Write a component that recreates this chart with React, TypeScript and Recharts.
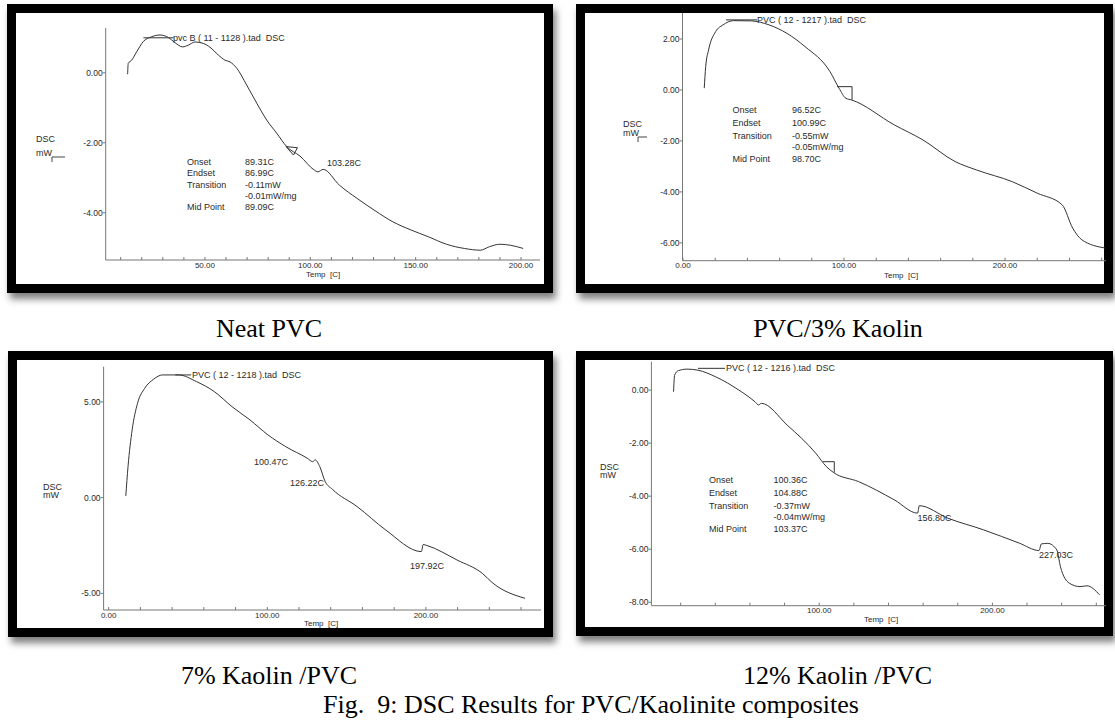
import React from "react";
import { LineChart, Line, XAxis, YAxis, ReferenceLine } from "recharts";

// Neat PVC
const neatTemp = [13.3, 13.6, 15.2, 17.6, 20.7, 24.7, 28.7, 32.6, 35.8, 39.4, 42.1, 45.3, 49.2, 52.4, 56.3, 59.5, 61.9, 65.1, 69.8, 74.6, 79.3, 84.1, 88.8, 95.1, 101.9, 103.6, 106.1, 113.8, 122.2, 130.7, 139.2, 147.7, 156.2, 164.6, 173.1, 180.7, 185, 190, 195.1, 201];
const neatDsc = [-0.04, 0.27, 0.36, 0.6, 0.89, 1.03, 1.08, 1.01, 0.86, 0.74, 0.79, 0.88, 0.84, 0.73, 0.51, 0.36, 0.31, 0.13, -0.35, -0.87, -1.35, -1.73, -2.11, -2.38, -2.78, -2.83, -2.76, -3.21, -3.59, -3.94, -4.26, -4.49, -4.69, -4.9, -5.02, -5.07, -4.97, -4.9, -4.93, -5.02];

// PVC / 3% kaolin
const kao3Temp = [13.2, 14.1, 15.9, 20.3, 24.8, 31.4, 42.5, 53.6, 64.6, 75.8, 91.3, 96.9, 101.2, 104.6, 131.2, 149, 169, 182.3, 204.5, 220, 235.5, 242, 247.7, 262];
const kao3Dsc = [0.07, 0.91, 1.57, 2.29, 2.55, 2.72, 2.71, 2.55, 2.22, 1.7, 0.72, 0.07, -0.33, -0.39, -1.37, -1.96, -2.81, -3.14, -3.6, -4.05, -4.51, -5.42, -5.88, -6.2];

// 7% kaolin / PVC
const kao7Temp = [10.8, 12.2, 14.8, 18.2, 22.7, 28.4, 34, 44.1, 55.4, 66.6, 77.8, 89.1, 100.4, 111.7, 125.2, 128.6, 130.2, 133.1, 136.5, 141, 156.7, 174.7, 197.2, 198.3, 200.6, 219.7, 235.5, 242.3, 262.5];
const kao7Dsc = [0.09, 1.62, 3.54, 4.93, 5.71, 6.19, 6.41, 6.41, 6.06, 5.54, 4.75, 4.06, 3.28, 2.66, 2.06, 1.88, 1.97, 1.62, 0.84, 0.44, -0.47, -1.69, -2.82, -2.45, -2.5, -3.26, -3.95, -4.47, -5.26];

// 12% kaolin / PVC
const kao12Temp = [15.9, 16.5, 18.6, 23.7, 30, 40.2, 53.6, 62.9, 65, 66.6, 81.5, 98, 104.2, 108.3, 122.7, 143.4, 156.8, 157.8, 174.3, 194.9, 215.5, 226.9, 228.3, 232, 237.2, 239.3, 244.4, 250.6, 254.6, 261.9];
const kao12Dsc = [-0.06, 0.56, 0.73, 0.79, 0.75, 0.5, 0, -0.44, -0.56, -0.5, -1.32, -2.38, -2.89, -3.11, -3.45, -4.14, -4.64, -4.36, -4.83, -5.27, -5.77, -6.05, -5.8, -5.78, -6.03, -6.66, -7.28, -7.41, -7.38, -7.72];

// onset markers and title leaders, in data units: [t1, y1, t2, y2]
const neatMarks = [[88.5, -2.11, 93.9, -2.14], [93.9, -2.14, 92, -2.35], [92, -2.35, 88.5, -2.11], [20.8, 1.0, 35.1, 1.0]];
const kao3Marks = [[95.7, 0.13, 105, 0.13], [105, 0.13, 105, -0.39], [26.7, 2.75, 46, 2.75]];
const kao7Marks = [[42, 6.41, 52, 6.41]];
const kao12Marks = [[102.1, -2.7, 108.7, -2.7], [108.7, -2.7, 108.7, -3.11], [30, 0.82, 45.6, 0.82]];

// axis ticks
const neatXTicks = [10, 20, 30, 40, 50, 60, 70, 80, 90, 100, 110, 120, 130, 140, 150, 160, 170, 180, 190, 200];
const neatXMajors = [50, 100, 150, 200];
const neatYTicks = [0, -2, -4];
const kao3XTicks = [0, 20, 40, 60, 80, 100, 120, 140, 160, 180, 200, 220, 240, 260];
const kao3YTicks = [2, 0, -2, -4, -6];
const kao7XTicks = [0, 20, 40, 60, 80, 100, 120, 140, 160, 180, 200, 220, 240, 260];
const kao7YTicks = [5, 0, -5];
const kao12XTicks = [20, 40, 60, 80, 100, 120, 140, 160, 180, 200, 220, 240, 260];
const kao12YTicks = [0, -2, -4, -6, -8];
const majors = [0, 100, 200];

const SANS = "'Liberation Sans', Arial, sans-serif";
const SERIF = "'Liberation Serif', 'Times New Roman', serif";
const INK = "#2a2a2a";

const zip = (t: number[], d: number[]) => t.map((v, i) => ({ t: v, dsc: d[i] }));

const xTick = (major: number[]) => (p: any) => {
  const { x, y, payload } = p;
  const v = payload.value as number;
  return (
    <g>
      <line x1={x} x2={x} y1={y - 3} y2={y} stroke="#777" />
      {major.includes(v) && (
        <text x={x} y={y + 5.2} textAnchor="middle" dominantBaseline="central" fontSize={8} fontFamily={SANS} fill={INK}>
          {v.toFixed(2)}
        </text>
      )}
    </g>
  );
};

type PanelProps = {
  left: number; top: number; width: number; height: number;
  margin: { top: number; right: number; bottom: number; left: number };
  xHeight: number;
  xDomain: [number, number]; yDomain: [number, number];
  xTicks: number[]; xMajors: number[]; yTicks: number[];
  temp: number[]; dsc: number[]; marks: number[][];
};

const Panel = (p: PanelProps) => (
  <div style={{ position: "absolute", left: p.left, top: p.top }}>
    <LineChart width={p.width} height={p.height} data={zip(p.temp, p.dsc)} margin={p.margin}>
      <XAxis
        dataKey="t" type="number" domain={p.xDomain} allowDataOverflow ticks={p.xTicks} interval={0}
        height={p.xHeight} tickSize={0} tickMargin={0} tickLine={false}
        axisLine={{ stroke: "#777" }} tick={xTick(p.xMajors)}
      />
      <YAxis
        type="number" domain={p.yDomain} allowDataOverflow ticks={p.yTicks} interval={0} width={40}
        tickSize={3} tickMargin={0} tickLine={{ stroke: "#777" }} axisLine={{ stroke: "#777" }}
        tickFormatter={(v: number) => v.toFixed(2)}
        tick={{ fontSize: 8.5, fill: INK, fontFamily: SANS }}
      />
      {p.marks.map((m, i) => (
        <ReferenceLine key={i} segment={[{ x: m[0], y: m[1] }, { x: m[2], y: m[3] }]} stroke="#333" strokeWidth={1} ifOverflow="visible" />
      ))}
      <Line dataKey="dsc" type="monotone" dot={false} stroke="#333" strokeWidth={1} isAnimationActive={false} />
    </LineChart>
  </div>
);

const Frame = ({ left, top, width, height }: { left: number; top: number; width: number; height: number }) => (
  <div
    style={{
      position: "absolute", left, top, width, height, boxSizing: "border-box",
      border: "9px solid #000", background: "#fff", boxShadow: "3px 6px 7px rgba(0,0,0,0.5)",
    }}
  />
);

type T = [string, number, number];
const sansTexts: T[] = [
  ["pvc B ( 11 - 1128 ).tad  DSC", 173, 38],
  ["DSC", 36, 139], ["mW", 36, 153],
  ["Onset", 187, 161.7], ["Endset", 187, 173.3], ["Transition", 187, 185], ["Mid Point", 187, 207.3],
  ["89.31C", 245, 161.7], ["86.99C", 245, 173.3], ["-0.11mW", 245, 185], ["-0.01mW/mg", 245, 196], ["89.09C", 245, 207.3],
  ["103.28C", 327, 162.7],

  ["PVC ( 12 - 1217 ).tad  DSC", 757, 20],
  ["DSC", 623, 124], ["mW", 623, 133],
  ["Onset", 732.5, 110], ["Endset", 732.5, 122.7], ["Transition", 732.5, 135.7], ["Mid Point", 732.5, 159.3],
  ["96.52C", 792, 110], ["100.99C", 792, 122.7], ["-0.55mW", 792, 135.7], ["-0.05mW/mg", 792, 146.7], ["98.70C", 792, 159.3],

  ["PVC ( 12 - 1218 ).tad  DSC", 192, 375],
  ["DSC", 43, 486.7], ["mW", 43, 495],
  ["100.47C", 254, 461.7], ["126.22C", 290, 482.7], ["197.92C", 410, 565.7],

  ["PVC ( 12 - 1216 ).tad  DSC", 726, 368.3],
  ["DSC", 600, 466.7], ["mW", 600, 475],
  ["Onset", 709, 480], ["Endset", 709, 492.7], ["Transition", 709, 505.7], ["Mid Point", 709, 529],
  ["100.36C", 773.6, 480], ["104.88C", 773.6, 492.7], ["-0.37mW", 773.6, 505.7], ["-0.04mW/mg", 773.6, 516.7], ["103.37C", 773.6, 529],
  ["156.80C", 917.5, 518.3], ["227.03C", 1039, 555],
];

const axisTitles: T[] = [
  ["Temp  [C]", 306, 274.5],
  ["Temp  [C]", 884, 275],
  ["Temp  [C]", 304, 623.5],
  ["Temp  [C]", 864, 619.5],
];

const captions: T[] = [
  ["Neat PVC", 269, 337],
  ["PVC/3% Kaolin", 838, 337],
  ["7% Kaolin /PVC", 269, 684],
  ["12% Kaolin /PVC", 837.5, 684],
  ["Fig.  9: DSC Results for PVC/Kaolinite composites", 591, 713],
];

export default function App() {
  return (
    <div style={{ position: "absolute", left: 0, top: 0, width: 1115, height: 720, background: "#fff", overflow: "hidden" }}>
      <Frame left={7} top={4} width={546} height={289} />
      <Frame left={576} top={4} width={537} height={289} />
      <Frame left={8} top={351} width={545} height={286} />
      <Frame left={576} top={351} width={537} height={285} />

      <Panel left={16} top={13} width={530} height={271} margin={{ top: 15, right: 6, bottom: 4, left: 49.7 }} xHeight={20}
        xDomain={[2.9, 209]} yDomain={[-5.35, 1.28]} xTicks={neatXTicks} xMajors={neatXMajors} yTicks={neatYTicks}
        temp={neatTemp} dsc={neatDsc} marks={neatMarks} />
      <Panel left={584} top={12} width={522} height={272} margin={{ top: 1, right: 0, bottom: 3.3, left: 58.5 }} xHeight={20}
        xDomain={[-0.3, 262.7]} yDomain={[-6.7, 3.02]} xTicks={kao3XTicks} xMajors={majors} yTicks={kao3YTicks}
        temp={kao3Temp} dsc={kao3Dsc} marks={kao3Marks} />
      <Panel left={16} top={359} width={530} height={269} margin={{ top: 7.7, right: 5, bottom: 2, left: 47.6 }} xHeight={16}
        xDomain={[-3.2, 272.6]} yDomain={[-5.87, 6.84]} xTicks={kao7XTicks} xMajors={majors} yTicks={kao7YTicks}
        temp={kao7Temp} dsc={kao7Dsc} marks={kao7Marks} />
      <Panel left={584} top={359} width={522} height={269} margin={{ top: 2.7, right: 0, bottom: 2.3, left: 27.4 }} xHeight={20}
        xDomain={[3.1, 265.6]} yDomain={[-8.13, 1.07]} xTicks={kao12XTicks} xMajors={majors} yTicks={kao12YTicks}
        temp={kao12Temp} dsc={kao12Dsc} marks={kao12Marks} />

      <svg width={1115} height={720} style={{ position: "absolute", left: 0, top: 0, pointerEvents: "none" }}>
        {sansTexts.map(([s, x, y], i) => (
          <text key={i} x={x} y={y} dominantBaseline="central" fontSize={9} fontFamily={SANS} fill={INK} style={{ whiteSpace: "pre" }}>
            {s}
          </text>
        ))}
        {axisTitles.map(([s, x, y], i) => (
          <text key={i} x={x} y={y} dominantBaseline="central" fontSize={8} fontFamily={SANS} fill={INK} style={{ whiteSpace: "pre" }}>
            {s}
          </text>
        ))}
        <path d="M52 162 V157 H65" fill="none" stroke="#444" />
        <path d="M638 142 V137 H647" fill="none" stroke="#444" />
        {captions.map(([s, x, y], i) => (
          <text key={i} x={x} y={y} textAnchor="middle" fontSize={26} fontFamily={SERIF} fill="#000" style={{ whiteSpace: "pre" }}>
            {s}
          </text>
        ))}
      </svg>
    </div>
  );
}
